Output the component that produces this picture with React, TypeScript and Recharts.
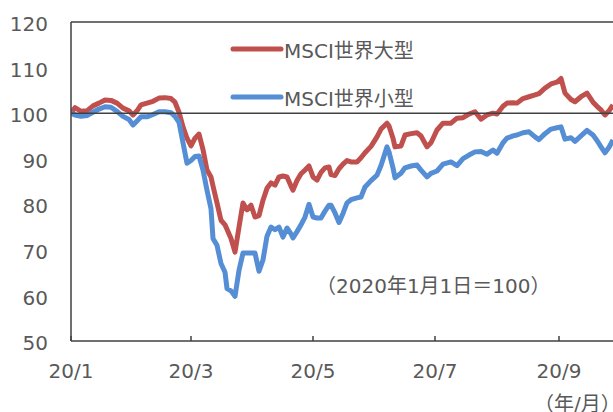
import { LineChart, Line, XAxis, YAxis, ReferenceLine } from 'recharts'

// days since 2020/1/1
const DAYS = [
  0, 2, 5, 8, 11, 14, 17, 20, 23, 26, 29, 31, 33, 35, 38, 41, 44, 47, 50, 52,
  54, 56, 58, 60, 62, 64, 66, 68, 70, 71, 73, 75, 77, 78, 80, 82, 84, 86, 88, 90,
  92, 94, 96, 98, 100, 102, 104, 106, 108, 110, 111, 113, 115, 117, 119, 121, 123, 125, 127, 129,
  130, 132, 134, 136, 138, 140, 143, 145, 147, 150, 153, 155, 158, 159, 161, 162, 165, 167, 170, 173,
  175, 178, 180, 183, 186, 190, 193, 196, 199, 202, 205, 208, 211, 213, 216, 218, 221, 223, 226, 229,
  232, 234, 237, 240, 243, 245, 247, 250, 252, 255, 258, 261, 263, 265, 267, 269, 271,
]

const LARGE = [
  100, 101.2, 100.4, 100.5, 101.6, 102.2, 102.9, 102.8, 102.2, 101.1, 100.5, 99.6, 100.5, 101.8, 102.2, 102.6, 103.3, 103.4, 103.2, 102.4,
  100.2, 97, 94.5, 92.8, 94.5, 95.4, 92, 87.5, 86, 84, 80.3, 76.5, 75.5, 74.5, 72.5, 69.5, 75, 80.3, 78.8, 79.8,
  77.2, 77.5, 80.9, 83.5, 84.7, 84.2, 86, 86.2, 86, 84, 83.1, 85.2, 86.7, 87.5, 88.4, 86, 85.3, 87, 88, 88.2,
  86.5, 86.3, 87.8, 88.8, 89.6, 89.3, 89.3, 90.2, 91.3, 92.7, 94.8, 96.5, 97.8, 97.2, 94.5, 92.6, 92.8, 95.2, 95.5, 95.7,
  95, 92.6, 93.5, 96.3, 97.8, 97.8, 98.9, 99, 99.8, 100.3, 98.7, 99.6, 100, 99.8, 101.5, 102.2, 102.3, 102.2, 103.2, 103.6,
  104, 104.3, 105.5, 106.4, 106.8, 107.6, 104.4, 103, 102.5, 103.6, 104.4, 102.4, 101.5, 100.7, 99.6, 100.5, 101.8,
]

const SMALL = [
  100, 99.6, 99.3, 99.5, 100.2, 100.9, 101.4, 101.3, 100.4, 99.3, 98.6, 97.4, 98.3, 99.2, 99.2, 99.7, 100.3, 100.3, 100.1, 99.3,
  98, 93.5, 89, 89.6, 90.5, 90.6, 87.5, 83.1, 79, 72.5, 71, 67, 65.1, 61.5, 61, 59.8, 65.5, 69.3, 69.3, 69.3,
  69.3, 65.3, 67.8, 73, 75, 74.4, 75, 72.8, 74.8, 73.5, 72.6, 74, 75.5, 77.2, 80, 77.2, 77, 77, 78.5, 79.8,
  79.8, 78.1, 76, 78, 80.3, 81, 81.4, 81.6, 83.8, 85.2, 86.4, 88.5, 92.6, 91.5, 88, 85.8, 86.8, 88, 88.4, 88.6,
  87.5, 86, 86.8, 87.3, 88.8, 89.3, 88.5, 90, 90.8, 91.5, 91.6, 91, 91.9, 91.2, 93.5, 94.5, 95, 95.2, 95.7, 95.9,
  94.8, 94.2, 95.5, 96.5, 96.8, 97, 94.3, 94.6, 93.8, 95, 96.2, 95.2, 94, 92.6, 91.3, 92.5, 94.1,
]

const TICK_DAYS = [0, 60, 121, 182, 244]
const TICK_LABELS = ['20/1', '20/3', '20/5', '20/7', '20/9']
const Y_TICKS = [50, 60, 70, 80, 90, 100, 110, 120]

const SERIES = [
  { key: 'large', name: 'MSCI世界大型', color: '#C0504D' },
  { key: 'small', name: 'MSCI世界小型', color: '#558ED5' },
]

const TEXT = '#595959'
const AXIS = '#404040'
const FONT = '"DejaVu Sans", "Noto Sans CJK JP", sans-serif'

const data = DAYS.map((d, i) => ({ day: d, large: LARGE[i], small: SMALL[i] }))

function XTick({ x, y, payload }: { x?: number; y?: number; payload?: { value: number } }) {
  const label = TICK_LABELS[TICK_DAYS.indexOf(payload?.value ?? -1)]
  return (
    <g>
      <line x1={x} y1={y} x2={x} y2={(y ?? 0) - 5} stroke={AXIS} strokeWidth={1.5} />
      <text x={x} y={(y ?? 0) + 37} textAnchor="middle" fill={TEXT} fontSize={20} fontFamily={FONT}>
        {label}
      </text>
    </g>
  )
}

export default function App() {
  return (
    <div
      style={{
        position: 'absolute',
        left: 0,
        top: 0,
        width: 613,
        height: 412,
        overflow: 'hidden',
        background: '#fff',
        fontFamily: FONT,
      }}
    >
      <LineChart width={613} height={412} data={data} margin={{ top: 22, right: 0, bottom: 0, left: 0 }}>
        <XAxis
          dataKey="day"
          type="number"
          domain={[0, 271]}
          ticks={TICK_DAYS}
          allowDataOverflow
          height={71}
          tickSize={0}
          tickMargin={0}
          tickLine={false}
          tick={<XTick />}
          axisLine={{ stroke: AXIS, strokeWidth: 1.5 }}
        />
        <YAxis
          type="number"
          domain={[50, 120]}
          ticks={Y_TICKS}
          width={71}
          tickSize={0}
          tickMargin={23}
          tickLine={false}
          tick={{ fill: TEXT, fontSize: 20, dy: 2, fontFamily: FONT }}
          axisLine={{ stroke: AXIS, strokeWidth: 1.5 }}
        />
        {SERIES.map((s) => (
          <Line
            key={s.key}
            type="linear"
            dataKey={s.key}
            name={s.name}
            stroke={s.color}
            strokeWidth={5}
            strokeLinejoin="round"
            dot={false}
            isAnimationActive={false}
          />
        ))}
        <ReferenceLine y={100} stroke={AXIS} strokeWidth={1.5} />
        <ReferenceLine y={120} stroke={AXIS} strokeWidth={1.5} />
      </LineChart>

      {/* legend */}
      <div style={{ position: 'absolute', left: 230, top: 25, fontSize: 20, color: TEXT }}>
        {SERIES.map((s) => (
          <div key={s.key} style={{ display: 'flex', alignItems: 'center', height: 48 }}>
            <svg width={54} height={10}>
              <line x1={3} y1={5} x2={51} y2={5} stroke={s.color} strokeWidth={5} strokeLinecap="round" />
            </svg>
            <span style={{ whiteSpace: 'nowrap' }}>{s.name}</span>
          </div>
        ))}
      </div>

      <div style={{ position: 'absolute', left: 316, top: 270, fontSize: 20, color: TEXT, whiteSpace: 'nowrap' }}>
        （2020年1月1日＝100）
      </div>
      <div style={{ position: 'absolute', left: 534, top: 388, fontSize: 20, color: TEXT, whiteSpace: 'nowrap' }}>
        （年/月）
      </div>
    </div>
  )
}
